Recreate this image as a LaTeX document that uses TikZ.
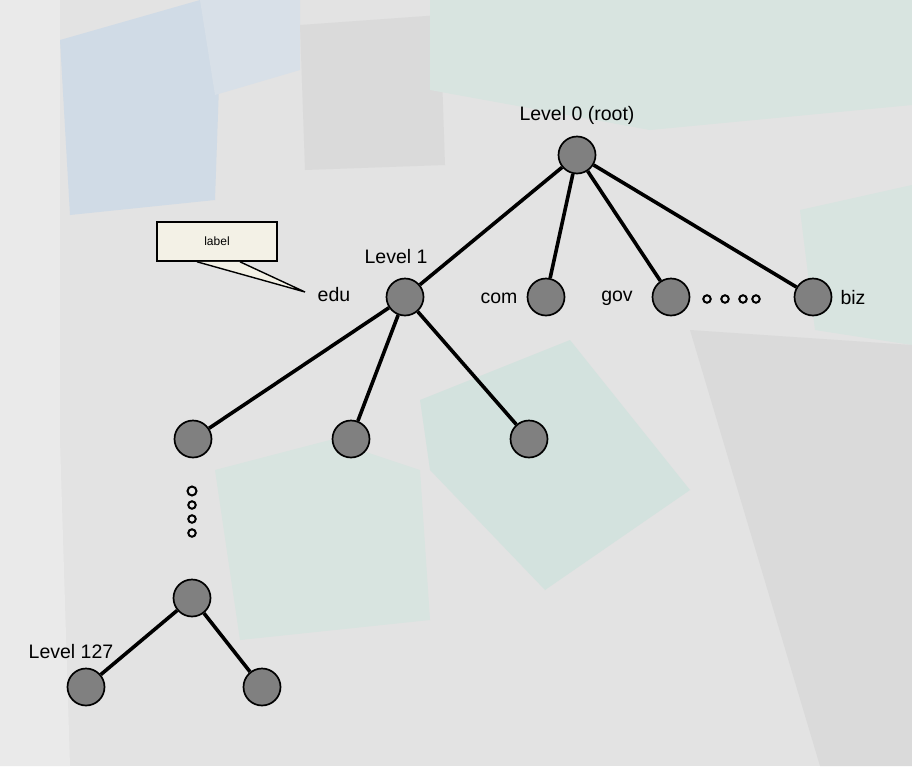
\documentclass[tikz,border=0pt]{standalone}
\usepackage{fontspec}
\setmainfont{Liberation Sans}
\definecolor{bgc}{HTML}{E3E3E3}
\definecolor{blueA}{HTML}{D0DBE6}
\definecolor{blueB}{HTML}{D8E0E8}
\definecolor{grayA}{HTML}{DADADA}
\definecolor{tealA}{HTML}{D8E4E0}
\definecolor{tealB}{HTML}{D3E2DE}
\definecolor{whiteA}{HTML}{EAEAEA}
\definecolor{nodegray}{HTML}{808080}
\definecolor{cream}{HTML}{F3F1E6}
\begin{document}
\begin{tikzpicture}[x=1pt,y=-1pt,
  tnode/.style={circle,draw=black,fill=nodegray,minimum size=37pt,inner sep=0pt,line width=1.7pt},
  edge/.style={line width=3.6pt,black},
  ring/.style={circle,draw=black,fill=whiteA,minimum size=7.5pt,inner sep=0pt,line width=2pt},
  txt/.style={inner sep=0pt,font=\fontsize{19.5}{22}\selectfont}]
% background scene
\fill[bgc] (0,0) rectangle (912,766);
\useasboundingbox (0,0) rectangle (912,766);
\fill[whiteA] (0,0) -- (60,0) -- (60,766) -- (0,766) -- cycle;
\fill[blueA] (60,40) -- (200,0) -- (222,0) -- (215,200) -- (70,215) -- cycle;
\fill[blueB] (200,0) -- (300,0) -- (300,70) -- (215,95) -- cycle;
\fill[grayA] (300,25) -- (440,15) -- (445,165) -- (305,170) -- cycle;
\fill[tealA] (430,0) -- (912,0) -- (912,105) -- (650,130) -- (430,90) -- cycle;
\fill[tealA] (800,210) -- (912,185) -- (912,345) -- (815,330) -- cycle;
\fill[grayA] (690,330) -- (912,345) -- (912,766) -- (820,766) -- cycle;
\fill[tealB] (420,400) -- (570,340) -- (690,490) -- (545,590) -- (430,470) -- cycle;
\fill[tealA] (215,470) -- (330,440) -- (420,470) -- (430,620) -- (240,640) -- cycle;
\fill[whiteA] (0,450) -- (60,440) -- (70,766) -- (0,766) -- cycle;
% nodes
\node[tnode] (root) at (577,155) {};
\node[tnode] (edu) at (405,297) {};
\node[tnode] (com) at (546,297) {};
\node[tnode] (gov) at (671,297) {};
\node[tnode] (biz) at (813,297) {};
\node[tnode] (a) at (193,439) {};
\node[tnode] (b) at (351,439) {};
\node[tnode] (c) at (529,439) {};
\node[tnode] (d) at (192,598) {};
\node[tnode] (e) at (86,687) {};
\node[tnode] (f) at (262,687) {};
% edges
\draw[edge] (root) -- (edu);
\draw[edge] (root) -- (com);
\draw[edge] (root) -- (gov);
\draw[edge] (root) -- (biz);
\draw[edge] (edu) -- (a);
\draw[edge] (edu) -- (b);
\draw[edge] (edu) -- (c);
\draw[edge] (d) -- (e);
\draw[edge] (d) -- (f);
% ellipsis rings
\node[ring] (h1) at (707,299) {};
\node[ring] (h2) at (725,299) {};
\node[ring] (h3) at (743,299) {};
\node[ring] (h4) at (756,299) {};
\node[ring,minimum height=9pt] (v1) at (192,491) {};
\node[ring] (v2) at (192,505) {};
\node[ring] (v3) at (192,519) {};
\node[ring] (v4) at (192,533) {};
% labels
\node[txt] (l0) at (577,115) {Level 0 (root)};
\node[txt] (l1) at (396,257) {Level 1};
\node[txt] (ledu) at (334,295) {edu};
\node[txt] (lcom) at (499,298) {com};
\node[txt] (lgov) at (617,298) {gov};
\node[txt] (lbiz) at (853,298) {biz};
\node[txt] (l127) at (71,652) {Level 127};
% callout
\coordinate (tip) at (305,292);
\node[draw=black,fill=cream,line width=1.6pt,minimum width=120pt,minimum height=39pt,inner sep=0pt,font=\fontsize{12}{14}\selectfont] (lbl) at (217,241.5) {label};
\filldraw[fill=cream,draw=black,line width=1.4pt,line join=miter] ([xshift=-20pt]lbl.south) -- (tip) -- ([xshift=23pt]lbl.south);
\end{tikzpicture}
\end{document}
